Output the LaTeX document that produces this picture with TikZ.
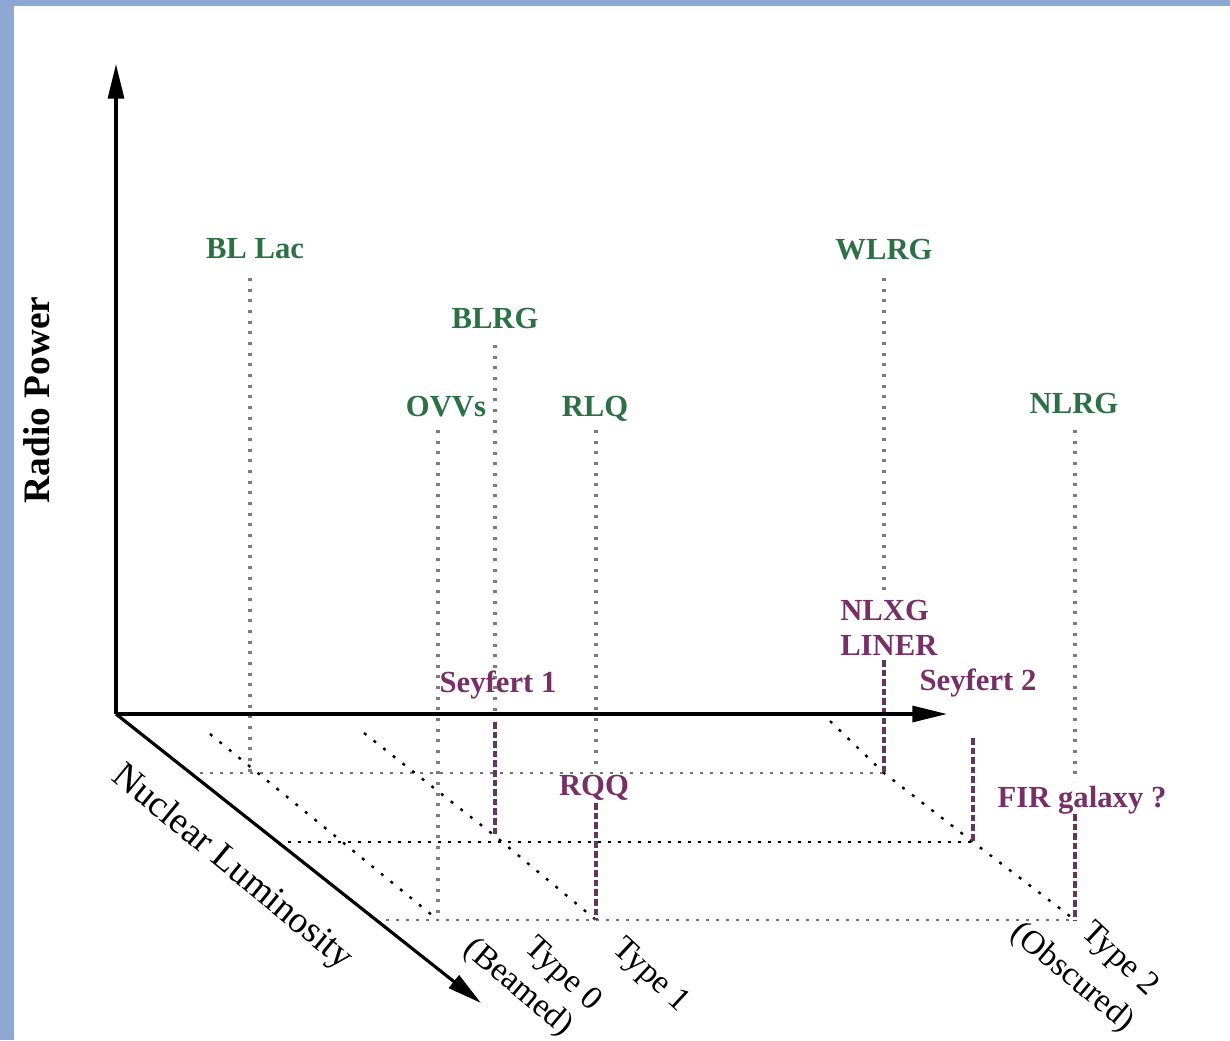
\documentclass[tikz,border=0pt]{standalone}
\usepackage{fontspec}
\setmainfont{Liberation Serif}
\usetikzlibrary{arrows.meta}
\definecolor{framebl}{RGB}{141,167,212}
\definecolor{lblgreen}{RGB}{45,112,70}
\definecolor{lblpurple}{RGB}{118,48,102}
\definecolor{dashpurple}{RGB}{100,55,90}
\definecolor{dotgray}{RGB}{125,125,125}
\begin{document}
\begin{tikzpicture}[x=0.75pt,y=-0.75pt,
  axisline/.style={line width=2.4pt, -{Triangle[length=26pt,width=12pt]}},
  vdot/.style={draw=dotgray, line width=2.4pt, dash pattern=on 2.2pt off 5.8pt},
  vdash/.style={draw=dashpurple, line width=2.6pt, dash pattern=on 5pt off 2.2pt},
  hdot/.style={line width=1.6pt, dash pattern=on 2.2pt off 5.3pt},
  ddot/.style={line width=1.8pt, dash pattern=on 2.2pt off 7pt},
  glab/.style={font=\fontsize{23}{27}\selectfont\bfseries, text=lblgreen, inner sep=0pt, anchor=base},
  plab/.style={font=\fontsize{23}{27}\selectfont\bfseries, text=lblpurple, inner sep=0pt, anchor=base},
  rlab/.style={font=\fontsize{25}{30}\selectfont, inner sep=0pt, rotate=-43},
]
\useasboundingbox (0,0) rectangle (1230,1040);
\fill[white] (0,0) rectangle (1230,1040);
\fill[framebl] (0,0) rectangle (14,1040);
\fill[framebl] (0,0) rectangle (1230,6);

% axis points
\coordinate (O) at (116,714);
\coordinate (ytip) at (116,64);
\coordinate (xtip) at (947,714);
\coordinate (ztip) at (481,1003);

% line end points
\coordinate (bllacT) at (250,278);  \coordinate (bllacF) at (250,773);
\coordinate (ovvsT) at (438,430);   \coordinate (ovvsF) at (438,920);
\coordinate (blrgT) at (495,345);   \coordinate (blrgA) at (495,714);
\coordinate (blrgD) at (495,722);   \coordinate (blrgF) at (495,836);
\coordinate (rlqT) at (596,430);    \coordinate (rlqM) at (596,768);
\coordinate (rlqD) at (596,803);    \coordinate (rlqF) at (596,920);
\coordinate (wlrgT) at (884,278);   \coordinate (wlrgM) at (884,596);
\coordinate (wlrgD) at (884,660);   \coordinate (wlrgF) at (884,773);
\coordinate (seyT) at (973,738);    \coordinate (seyF) at (973,842);
\coordinate (nlrgT) at (1075,430);  \coordinate (nlrgM) at (1075,782);
\coordinate (nlrgD) at (1075,814);  \coordinate (nlrgF) at (1075,920);

\coordinate (h1s) at (200,773);
\coordinate (h2s) at (288,842);
\coordinate (h3s) at (386,920);
\coordinate (d1s) at (210,734);
\coordinate (d2s) at (364,733);
\coordinate (d3s) at (830,721);

% horizontal dotted planes
\draw[hdot, draw=black!55] (h1s) -- (wlrgF);
\draw[hdot, draw=black] (h2s) -- (seyF);
\draw[hdot, draw=black!55] (h3s) -- (nlrgF);

% diagonal dotted lines
\draw[ddot] (d1s) -- (ovvsF);
\draw[ddot] (d2s) -- (blrgF) -- (rlqF);
\draw[ddot] (d3s) -- (wlrgF) -- (seyF) -- (nlrgF);

% vertical lines
\draw[vdot] (bllacT) -- (bllacF);
\draw[vdot] (ovvsT) -- (ovvsF);
\draw[vdot] (blrgT) -- (blrgA);
\draw[vdash] (blrgD) -- (blrgF);
\draw[vdot] (rlqT) -- (rlqM);
\draw[vdash] (rlqD) -- (rlqF);
\draw[vdot] (wlrgT) -- (wlrgM);
\draw[vdash] (wlrgD) -- (wlrgF);
\draw[vdash] (seyT) -- (seyF);
\draw[vdot] (nlrgT) -- (nlrgM);
\draw[vdash] (nlrgD) -- (nlrgF);

% axes
\draw[axisline] (O) -- (ytip);
\draw[axisline] (O) -- (xtip);
\draw[axisline] (O) -- (ztip);

% green labels
\node[glab] (bllac) at (255,258) {BL Lac};
\node[glab] (wlrg) at (884,259) {WLRG};
\node[glab] (blrg) at (495,328) {BLRG};
\node[glab] (ovvs) at (446,416) {OVVs};
\node[glab] (rlq) at (595,416) {RLQ};
\node[glab] (nlrg) at (1074,413) {NLRG};

% purple labels
\node[plab] (sey1) at (498,692) {Seyfert 1};
\node[plab, anchor=base west] (nlxg) at (840,620) {NLXG};
\node[plab, anchor=base west] (liner) at (840,655) {LINER};
\node[plab] (sey2) at (978,690) {Seyfert 2};
\node[plab] (rqq) at (594,795) {RQQ};
\node[plab] (fir) at (1082,807) {FIR galaxy ?};

% axis titles
\node[font=\fontsize{28}{32}\selectfont\bfseries, rotate=90, inner sep=0pt] (rpow) at (37,400) {Radio Power};
\node[font=\fontsize{28}{32}\selectfont, rotate=-39.5, inner sep=0pt] (nlum) at (232,868) {Nuclear Luminosity};

% type labels
\node[rlab] (t0) at (562,975) {Type 0};
\node[rlab, rotate=3] (t0b) at (518,988) {(Beamed)};
\node[rlab] (t1) at (650,976) {Type 1};
\node[rlab] (t2) at (1119,960) {Type 2};
\node[rlab, rotate=3] (t2b) at (1072,978) {(Obscured)};
\end{tikzpicture}
\end{document}
